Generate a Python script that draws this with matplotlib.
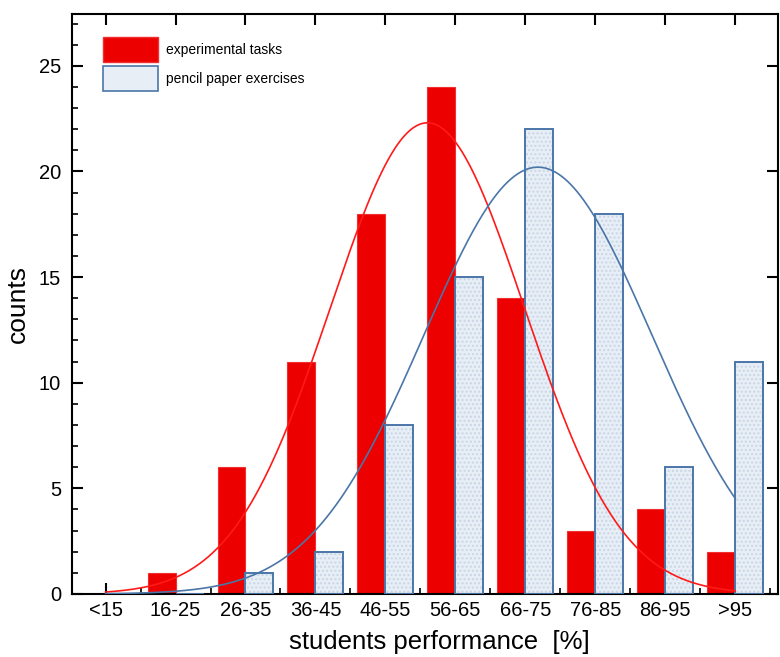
import numpy as np
import matplotlib.pyplot as plt
from matplotlib.ticker import MultipleLocator, FixedLocator
from matplotlib.patches import Patch

plt.rcParams['font.family'] = ['Liberation Sans', 'DejaVu Sans']

# --- data ---
categories = ['<15', '16-25', '26-35', '36-45', '46-55', '56-65',
              '66-75', '76-85', '86-95', '>95']
experimental = [0, 1, 6, 11, 18, 24, 14, 3, 4, 2]
pencil_paper = [0, 0, 1, 2, 8, 15, 22, 18, 6, 11]

# gaussian fit parameters (amplitude, centre, width) in category units
fit_exp = (22.3, 4.6, 1.39)
fit_pp = (20.2, 6.18, 1.63)

red = '#ec0000'
blue = '#4a76a8'
fill_blue = '#e7eef6'

fig = plt.figure(figsize=(7.8, 6.57), dpi=100)
ax = fig.add_axes([0.0923, 0.0959, 0.905, 0.8828])

x = np.arange(len(categories))
w = 0.4

ax.bar(x, experimental, width=-w, align='edge', color=red, edgecolor='#f03030',
       linewidth=0.8, zorder=2)
# dotted light fill for pencil paper bars, then outline
ax.bar(x, pencil_paper, width=w, align='edge', color=fill_blue,
       edgecolor='#c9d6e6', hatch='....', linewidth=0, zorder=2)
ax.bar(x, pencil_paper, width=w, align='edge', color='none',
       edgecolor=blue, linewidth=1.4, zorder=3)

xs = np.linspace(0, 9, 400)
a, m, s = fit_exp
ax.plot(xs, a * np.exp(-(xs - m) ** 2 / (2 * s ** 2)), color='#ff1a1a', lw=1.2, zorder=4)
a, m, s = fit_pp
ax.plot(xs, a * np.exp(-(xs - m) ** 2 / (2 * s ** 2)), color=blue, lw=1.2, zorder=4)

ax.set_xlim(-0.48, 9.61)
ax.set_ylim(0, 27.45)

ax.set_xticks(x)
ax.set_xticklabels(categories)
ax.xaxis.set_minor_locator(FixedLocator(x + 0.5))
ax.yaxis.set_major_locator(MultipleLocator(5))
ax.yaxis.set_minor_locator(MultipleLocator(1))

ax.tick_params(which='major', direction='in', length=8, width=1.5,
               top=True, right=True)
ax.tick_params(axis='x', which='major', labelsize=14.5, pad=5)
ax.tick_params(axis='y', which='major', labelsize=14.5, pad=8)
ax.tick_params(which='minor', direction='in', length=4, width=1.2)
ax.tick_params(axis='x', which='minor', top=False)
ax.tick_params(axis='y', which='minor', right=False)
for sp in ax.spines.values():
    sp.set_linewidth(1.5)

ax.set_xlabel('students performance  [%]', fontsize=18.5)
ax.xaxis.set_label_coords(0.521, -0.062)
ax.set_ylabel('counts', fontsize=19, labelpad=6)

handles = [Patch(facecolor=red, edgecolor='#f03030'),
           Patch(facecolor=fill_blue, edgecolor=blue, linewidth=1.2)]
ax.legend(handles, ['experimental tasks', 'pencil paper exercises'],
          loc='upper left', bbox_to_anchor=(0.026, 0.982), frameon=False,
          fontsize=10, handlelength=4.0, handleheight=2.4, handletextpad=0.58,
          labelspacing=0.3)

fig.savefig('out.png', dpi=100)
